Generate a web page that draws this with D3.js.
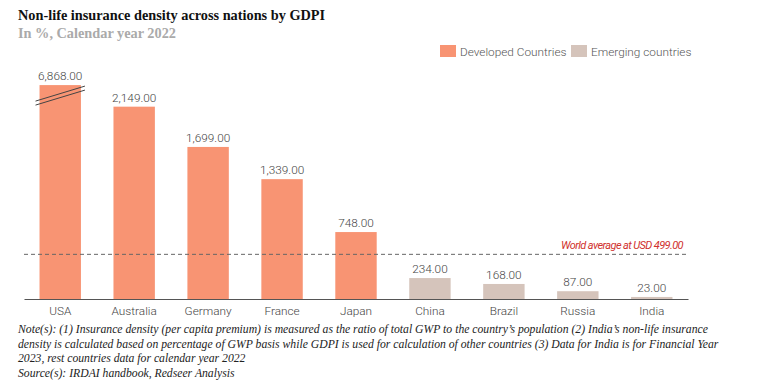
<!DOCTYPE html>
<html>
<head>
<meta charset="utf-8">
<script src="https://cdn.jsdelivr.net/npm/d3@7"></script>
<style>
  body { margin: 0; background: #fff; }
  svg { display: block; }
</style>
</head>
<body>
<script>
(function(){

//chart data
var countries = ["USA", "Australia", "Germany", "France", "Japan", "China", "Brazil", "Russia", "India"];
var density = [6868, 2149, 1699, 1339, 748, 234, 168, 87, 23];
var groups = ["dev", "dev", "dev", "dev", "dev", "emg", "emg", "emg", "emg"];
var legendLabels = ["Developed Countries", "Emerging countries"];
var worldAverage = 499;
var capValue = 2390; //USA bar is drawn broken at this height
var noteLines = [
    "Note(s): (1) Insurance density (per capita premium) is measured as the ratio of total GWP to the country\u2019s population (2) India\u2019s non-life insurance",
    "density is calculated based on percentage of GWP basis while GDPI is used for calculation of other countries (3) Data for India is for Financial Year",
    "2023, rest countries data for calendar year 2022",
    "Source(s): IRDAI handbook, Redseer Analysis"
];

var width = 768,
    height = 387;

var colors = { dev: "#f89473", emg: "#d5c4bb" };

var svg = d3.select("body")
    .append("svg")
    .attr("width", width)
    .attr("height", height);

//title block
svg.append("text")
    .attr("x", 18).attr("y", 20)
    .style("font-family", "'Liberation Serif', 'Times New Roman', serif")
    .style("font-weight", "bold")
    .style("font-size", "14.3px")
    .attr("fill", "#111")
    .text("Non-life insurance density across nations by GDPI");

svg.append("text")
    .attr("x", 18).attr("y", 38)
    .style("font-family", "'Liberation Serif', 'Times New Roman', serif")
    .style("font-weight", "bold")
    .style("font-size", "14.3px")
    .attr("fill", "#aaaaaa")
    .text("In %, Calendar year 2022");

//scales
var x = d3.scaleBand()
    .domain(countries)
    .range([24, 688])
    .paddingInner(0.44)
    .paddingOuter(0.21);

var y = d3.scaleLinear()
    .domain([0, 2400])
    .range([299, 84.2]);

var data = countries.map(function(c, i){
    return { name: c, value: density[i], group: groups[i] };
});

//bars
svg.selectAll(".bar")
    .data(data)
    .enter()
    .append("rect")
    .attr("class", "bar")
    .attr("x", function(d){ return x(d.name); })
    .attr("width", x.bandwidth())
    .attr("y", function(d){ return y(Math.min(d.value, capValue)); })
    .attr("height", function(d){ return y(0) - y(Math.min(d.value, capValue)); })
    .attr("fill", function(d){ return colors[d.group]; });

//break marks on the capped bar
var broken = data.filter(function(d){ return d.value > capValue; });
broken.forEach(function(d){
    var x0 = x(d.name) - 4,
        x1 = x(d.name) + x.bandwidth() + 4;
    [0, 4].forEach(function(off){
        svg.append("line")
            .attr("x1", x0).attr("y1", y(capValue) + 16 + off)
            .attr("x2", x1).attr("y2", y(capValue) + 1 + off)
            .attr("stroke", "#444")
            .attr("stroke-width", 1);
    });
});

//value labels
svg.selectAll(".val")
    .data(data)
    .enter()
    .append("text")
    .attr("class", "val")
    .attr("x", function(d){ return x(d.name) + x.bandwidth() / 2; })
    .attr("y", function(d){ return y(Math.min(d.value, capValue)) - 5; })
    .attr("text-anchor", "middle")
    .style("font-family", "Roboto, sans-serif")
    .style("font-weight", "300")
    .style("font-size", "11.8px")
    .attr("fill", "#444")
    .text(function(d){ return d3.format(",.2f")(d.value); });

//x axis
var xAxis = svg.append("g")
    .attr("transform", "translate(0," + y(0) + ")")
    .call(d3.axisBottom(x).tickSize(0).tickPadding(8));
xAxis.select(".domain").attr("stroke", "#555").attr("stroke-width", 1.2);
xAxis.selectAll("text")
    .style("font-family", "Roboto, sans-serif")
    .style("font-weight", "300")
    .style("font-size", "11.8px")
    .attr("fill", "#444");

//world average line
svg.append("line")
    .attr("x1", 24).attr("x2", 688)
    .attr("y1", y(worldAverage)).attr("y2", y(worldAverage))
    .attr("stroke", "#666")
    .attr("stroke-width", 1)
    .attr("stroke-dasharray", "4,3");

svg.append("text")
    .attr("x", 683).attr("y", y(worldAverage) - 5)
    .attr("text-anchor", "end")
    .style("font-family", "Roboto, sans-serif")
    .style("font-style", "italic")
    .style("font-size", "11px")
    .style("letter-spacing", "-0.6px")
    .attr("fill", "#d0312d")
    .text("World average at USD " + d3.format(",.2f")(worldAverage));

//legend
var legend = svg.selectAll(".legend")
    .data(legendLabels)
    .enter()
    .append("g")
    .attr("class", "legend")
    .attr("transform", function(d, i){ return "translate(" + [440, 571][i] + ",45)"; });

legend.append("rect")
    .attr("width", 16).attr("height", 12)
    .attr("fill", function(d, i){ return i === 0 ? colors.dev : colors.emg; });

legend.append("text")
    .attr("x", 20).attr("y", 10.5)
    .style("font-family", "Roboto, sans-serif")
    .style("font-weight", "300")
    .style("font-size", "11.8px")
    .attr("fill", "#555")
    .text(function(d){ return d; });

//notes
svg.selectAll(".note")
    .data(noteLines)
    .enter()
    .append("text")
    .attr("class", "note")
    .attr("x", 18)
    .attr("y", function(d, i){ return 333 + i * 14.5; })
    .style("font-family", "'Liberation Serif', 'Times New Roman', serif")
    .style("font-style", "italic")
    .style("font-size", "11.7px")
    .attr("fill", "#222")
    .text(function(d){ return d; });

})();
</script>
</body>
</html>
